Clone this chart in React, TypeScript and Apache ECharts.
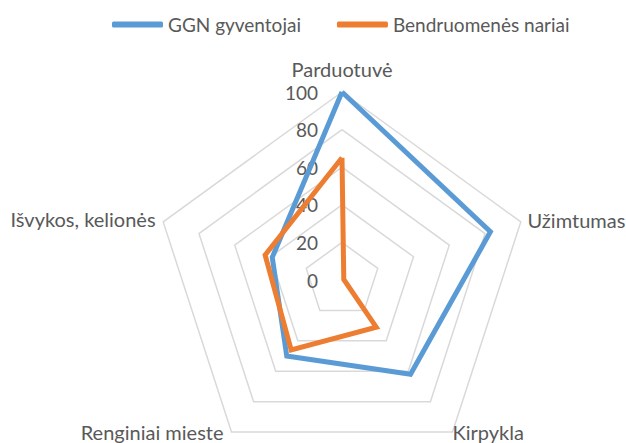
import React, { useEffect, useRef } from "react";
import * as echarts from "echarts";

const indicators = ["Parduotuvė", "Užimtumas", "Kirpykla", "Renginiai mieste", "Išvykos, kelionės"];
const seriesNames = ["GGN gyventojai", "Bendruomenės nariai"];
const ggnValues = [100, 83, 62, 50, 39];
const bendValues = [65, 1, 31, 46, 43];
const axisMax = 100;
const axisInterval = 20;

// ECharts lays radar indicators out counter-clockwise; the reference runs clockwise.
const clockwiseOrder = (arr: any[]) => [arr[0], ...arr.slice(1).reverse()];

// per-indicator name placement tweaks (keyed by indicator name)
const nameGaps: Record<string, number> = {
  "Parduotuvė": 13,
  "Užimtumas": 7,
  "Kirpykla": 0,
  "Renginiai mieste": 0,
  "Išvykos, kelionės": 8,
};

export default function App() {
  const ref = useRef<HTMLDivElement>(null);
  useEffect(() => {
    if (!ref.current) return;
    const chart = echarts.init(ref.current, null, { renderer: "svg" });
    const font = "Lato, 'Open Sans', sans-serif";
    chart.setOption({
      animation: false,
      backgroundColor: "#ffffff",
      legend: {
        top: 10,
        left: 107,
        itemWidth: 51,
        itemHeight: 6,
        itemGap: 36,
        icon: "roundRect",
        textStyle: { fontSize: 19, color: "#595959", fontFamily: font },
        data: seriesNames,
      },
      radar: {
        center: [342, 280],
        radius: 188,
        startAngle: 90,
        shape: "polygon",
        splitNumber: axisMax / axisInterval,
        axisName: { color: "#595959", fontSize: 20, fontFamily: font },
        nameGap: 8,
        axisLine: { show: false },
        axisTick: { show: false },
        axisLabel: { show: false },
        splitLine: { lineStyle: { color: "#d9d9d9", width: 1.5 } },
        splitArea: { show: false },
        indicator: clockwiseOrder(indicators).map((name, i) => ({
          name,
          min: 0,
          max: axisMax,
          nameGap: nameGaps[name],
          ...(name === "Renginiai mieste"
            ? { nameTextStyle: { padding: [0, 8, 0, 0] } }
            : {}),
          ...(i === 0
            ? {
                axisLabel: {
                  show: true,
                  showMinLabel: true,
                  color: "#595959",
                  fontSize: 19,
                  fontFamily: font,
                  margin: 24,
                },
              }
            : {}),
        })),
      },
      series: [
        {
          type: "radar",
          symbol: "none",
          data: [
            {
              name: seriesNames[0],
              value: clockwiseOrder(ggnValues),
              lineStyle: { color: "#5B9BD5", width: 5, join: "miter" },
              itemStyle: { color: "#5B9BD5" },
            },
            {
              name: seriesNames[1],
              value: clockwiseOrder(bendValues),
              lineStyle: { color: "#ED7D31", width: 5, join: "miter" },
              itemStyle: { color: "#ED7D31" },
            },
          ],
        },
      ],
    });
    return () => chart.dispose();
  }, []);
  return (
    <div
      ref={ref}
      style={{ position: "absolute", left: 0, top: 0, width: 626, height: 443 }}
    />
  );
}
